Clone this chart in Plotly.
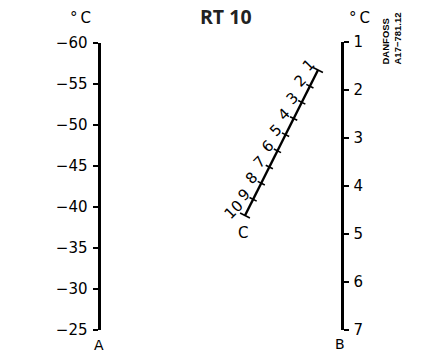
import plotly.graph_objects as go

# ---- data ----
left_ticks = [-60, -55, -50, -45, -40, -35, -30, -25]
right_ticks = [1, 2, 3, 4, 5, 6, 7]
c_ticks = [1, 2, 3, 4, 5, 6, 7, 8, 9, 10]
title_text = "RT 10"
unit_text = "°\u2009C"
scale_names = ["A", "B", "C"]
code_text = ["DANFOSS", "A17−781.12"]

# ---- layout constants (pixels) ----
W, H = 437, 354
LX, L_TOP, L_BOT = 98.5, 43, 329.5
RX, R_TOP, R_BOT = 341.5, 42, 330
C_TOP = (318.0, 70.0)
C_BOT = (245.0, 215.5)
FONT = "DejaVu Sans"


def cpos(v):
    f = (v - c_ticks[0]) / (c_ticks[-1] - c_ticks[0])
    return (C_TOP[0] + f * (C_BOT[0] - C_TOP[0]), C_TOP[1] + f * (C_BOT[1] - C_TOP[1]))


dx, dy = C_BOT[0] - C_TOP[0], C_BOT[1] - C_TOP[1]
L = (dx ** 2 + dy ** 2) ** 0.5
ux, uy = dx / L, dy / L          # along the scale
px, py = -uy, ux                 # perpendicular
if px > 0:
    px, py = -px, -py

fig = go.Figure()

fig.add_trace(go.Scatter(x=[LX] * len(left_ticks), y=left_ticks, xaxis="x", yaxis="y",
                         mode="markers", marker=dict(opacity=0), hoverinfo="skip", showlegend=False))
fig.add_trace(go.Scatter(x=[RX] * len(right_ticks), y=right_ticks, xaxis="x", yaxis="y2",
                         mode="markers", marker=dict(opacity=0), hoverinfo="skip", showlegend=False))

p1 = cpos(c_ticks[0]); p2 = cpos(c_ticks[-1])
fig.add_trace(go.Scatter(x=[p1[0], p2[0]], y=[p1[1], p2[1]], xaxis="x", yaxis="y3",
                         mode="lines", line=dict(color="black", width=2.4),
                         hoverinfo="skip", showlegend=False))
tx, ty = [], []
for i, v in enumerate(c_ticks):
    cx, cy = cpos(v)
    h = 5.5 if i in (0, len(c_ticks) - 1) else 4
    tx += [cx - px * h, cx + px * h, None]
    ty += [cy - py * h, cy + py * h, None]
fig.add_trace(go.Scatter(x=tx, y=ty, xaxis="x", yaxis="y3", mode="lines",
                         line=dict(color="black", width=1.6), hoverinfo="skip", showlegend=False))

annotations = []
for v in c_ticks:
    cx, cy = cpos(v)
    off = 10.5 if v < 10 else 13
    annotations.append(dict(x=cx + px * off, y=cy + py * off, xref="x", yref="y3",
                            text=str(v), showarrow=False, textangle=-45,
                            font=dict(family=FONT, size=15, color="black"),
                            xanchor="center", yanchor="middle"))

annotations += [
    dict(x=226 / W, y=1 - 16 / H, xref="paper", yref="paper", text="<b>" + title_text + "</b>",
         showarrow=False, font=dict(family="Open Sans", size=19.5, color="#222"),
         xanchor="center", yanchor="middle"),
    dict(x=80 / W, y=1 - 18 / H, xref="paper", yref="paper", text=unit_text, showarrow=False,
         font=dict(family=FONT, size=15, color="black"), xanchor="center", yanchor="middle"),
    dict(x=359 / W, y=1 - 18 / H, xref="paper", yref="paper", text=unit_text, showarrow=False,
         font=dict(family=FONT, size=15, color="black"), xanchor="center", yanchor="middle"),
    dict(x=99 / W, y=1 - 345 / H, xref="paper", yref="paper", text=scale_names[0], showarrow=False,
         font=dict(family=FONT, size=14, color="black"), xanchor="center", yanchor="middle"),
    dict(x=340 / W, y=1 - 344 / H, xref="paper", yref="paper", text=scale_names[1], showarrow=False,
         font=dict(family=FONT, size=14, color="black"), xanchor="center", yanchor="middle"),
    dict(x=243, y=233, xref="x", yref="y3", text=scale_names[2], showarrow=False,
         font=dict(family=FONT, size=15, color="black"), xanchor="center", yanchor="middle"),
    dict(x=391 / W, y=1 - 38.5 / H, xref="paper", yref="paper",
         text="<b>" + code_text[0] + "<br>" + code_text[1] + "</b>", showarrow=False, textangle=-90,
         font=dict(family="Liberation Sans", size=9.5, color="black"), xanchor="center", yanchor="middle",
         align="left"),
]

axis_common = dict(showline=True, linecolor="black", linewidth=3, ticks="outside", ticklen=5,
                   tickwidth=2, tickcolor="black", showgrid=False, zeroline=False,
                   tickfont=dict(family=FONT, size=15, color="black"), anchor="free",
                   fixedrange=True, automargin=False, ticklabelstandoff=2)

fig.update_layout(
    width=W, height=H, margin=dict(l=0, r=0, t=0, b=0, pad=0, autoexpand=False),
    paper_bgcolor="white", plot_bgcolor="rgba(0,0,0,0)",
    xaxis=dict(range=[0, W], domain=[0, 1], visible=False, fixedrange=True, automargin=False),
    yaxis=dict(range=[left_ticks[-1], left_ticks[0]], tickvals=left_ticks,
               domain=[1 - L_BOT / H, 1 - L_TOP / H], side="left", position=LX / W, **axis_common),
    yaxis2=dict(range=[right_ticks[-1], right_ticks[0]], tickvals=right_ticks,
                domain=[1 - R_BOT / H, 1 - R_TOP / H], side="right", position=RX / W, **axis_common),
    yaxis3=dict(range=[H, 0], domain=[0, 1], visible=False, anchor="x", fixedrange=True,
                automargin=False),
    annotations=annotations,
    showlegend=False,
)

fig.write_html("out.html", config={"displayModeBar": False},
               post_script="document.body.style.margin='0';")
